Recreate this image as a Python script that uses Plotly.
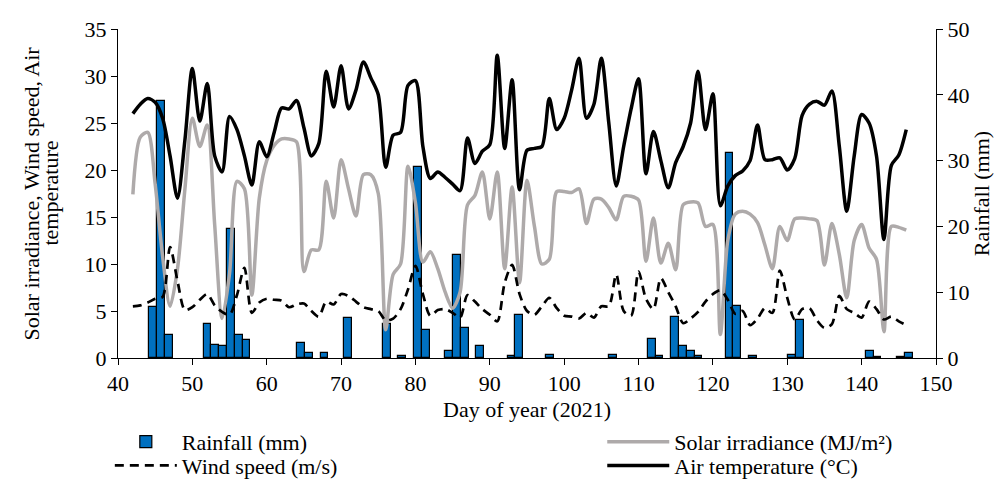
import plotly.graph_objects as go

days = list(range(42, 147))

air_temp = [26.0, 27.0, 27.6, 27.2, 25.5, 21.5, 17.0, 23.2, 30.8, 25.2,
            29.2, 21.5, 19.8, 25.7, 24.3, 21.5, 18.4, 23.0, 21.4, 24.0,
            26.6, 26.5, 27.4, 24.5, 21.5, 22.8, 30.5, 26.7, 31.1, 26.5,
            28.5, 31.5, 29.8, 28.0, 20.3, 23.7, 24.0, 29.0, 29.5, 22.5,
            19.1, 19.8, 19.2, 18.5, 17.8, 23.4, 20.7, 22.0, 22.7, 32.2,
            22.3, 29.6, 17.9, 22.1, 22.3, 22.5, 27.6, 24.3, 25.5, 28.5,
            31.9, 25.5, 27.0, 31.9, 25.0, 18.3, 22.5, 26.5, 29.7, 19.6,
            24.1, 21.0, 18.1, 20.8, 22.5, 25.0, 30.5, 24.3, 28.1, 16.2,
            18.3, 19.4, 19.9, 21.0, 24.8, 21.1, 21.1, 21.3, 20.0, 21.2,
            25.8, 27.0, 27.3, 26.9, 28.4, 22.5, 15.6, 21.5, 25.9, 25.0,
            21.5, 12.6, 20.5, 21.6, 24.3]

solar = [17.4, 23.5, 24.0, 18.5, 10.8, 5.5, 9.5, 18.0, 25.5, 22.5,
         24.8, 14.2, 4.2, 9.0, 18.8, 18.0, 6.7, 17.0, 21.0, 22.6,
         23.3, 23.3, 23.0, 9.2, 11.5, 11.5, 18.8, 14.9, 21.1, 18.0,
         15.1, 19.5, 19.5, 17.5, 3.0, 8.9, 10.0, 20.4, 16.5, 10.2,
         11.3, 9.5, 7.0, 5.3, 7.0, 16.3, 17.3, 19.8, 14.8, 19.8,
         9.5, 18.2, 8.0, 18.9, 14.0, 10.0, 10.5, 17.7, 17.7, 17.6,
         18.0, 14.3, 16.9, 16.9, 16.0, 14.7, 17.2, 17.2, 16.8, 10.3,
         14.9, 10.1, 12.2, 9.4, 16.3, 16.6, 16.5, 14.0, 14.2, 2.5,
         12.5, 15.3, 15.6, 15.3, 14.4, 12.0, 9.5, 14.0, 12.5, 14.8,
         14.9, 14.8, 14.6, 9.9, 14.3, 11.0, 6.4, 12.5, 14.2, 11.7,
         10.5, 2.8, 14.0, 13.9, 13.6]

wind = [5.5, 5.6, 5.9, 6.3, 6.5, 11.8, 8.2, 5.1, 5.4, 6.2,
        6.8, 5.6, 4.9, 4.6, 6.7, 9.6, 4.8, 5.9, 6.3, 6.2,
        6.1, 5.4, 5.7, 5.8, 5.0, 4.4, 6.0, 5.7, 6.8, 6.6,
        6.0, 5.4, 5.2, 5.0, 4.0, 4.2, 5.2, 7.3, 9.8, 6.8,
        4.5, 5.1, 5.2, 4.8, 4.3, 6.7, 6.0, 5.2, 4.6, 3.9,
        8.0, 9.9, 6.8, 5.0, 4.6, 5.5, 6.4, 5.3, 4.5, 4.4,
        4.2, 4.8, 4.3, 5.5, 5.5, 8.9, 5.0, 4.5, 9.2, 6.3,
        5.2, 8.5, 7.0, 5.5, 3.7, 4.2, 4.9, 6.0, 6.8, 7.2,
        6.2, 4.7, 5.0, 3.5, 4.2, 5.3, 4.8, 9.3, 6.4, 4.1,
        5.2, 5.3, 4.0, 3.2, 3.6, 6.6, 5.2, 4.8, 4.3, 6.0,
        5.2, 4.1, 4.4, 3.9, 3.5]

rain_days = list(range(42, 147))
rain_mm = [None, None, None, None, 7.7, 39.1, 3.5, None, None, None,
           None, 5.1, 2.0, 1.8, 19.6, 3.5, 2.8, None, None, None,
           None, None, None, 2.3, 0.8, None, 0.8, None, None, 6.1,
           None, None, None, None, 5.1, None, 0.25, None, 29.1, 4.3,
           None, None, 1.0, 15.7, 4.6, None, 1.8, None, None, None,
           0.25, 6.6, None, None, None, 0.5, None, None, None, None,
           None, None, None, 0.5, None, None, None, None, 2.9, 0.25,
           None, 6.3, 1.8, 1.0, 0.25, None, None, None, 31.1, 7.9,
           None, 0.25, None, None, None, None, 0.4, 5.8, None, None,
           None, None, None, None, None, None, 1.0, 0.2, None, None,
           0.2, 0.8, None, None, None]

x_ticks = list(range(40, 151, 10))
left_ticks = list(range(0, 36, 5))
right_ticks = list(range(0, 51, 10))

left_title_lines = ["Solar irradiance, Wind speed, Air", "temperature"]

FONT = "Liberation Serif, Times New Roman, serif"
FS = 22

fig = go.Figure()

fig.add_trace(go.Bar(
    x=rain_days, y=rain_mm, name="Rainfall (mm)",
    xaxis="x", yaxis="y", width=1.0, legend="legend",
    marker=dict(color="#0070C0", line=dict(color="black", width=1.2)),
))
fig.add_trace(go.Scatter(
    x=days, y=solar, name="Solar irradiance (MJ/m²)", mode="lines",
    xaxis="x2", yaxis="y2", legend="legend2",
    line=dict(color="#AEAAAA", width=3.5, shape="spline", smoothing=0.8),
))
fig.add_trace(go.Scatter(
    x=days, y=wind, name="Wind speed (m/s)", mode="lines",
    xaxis="x2", yaxis="y2", legend="legend3",
    line=dict(color="black", width=2.7, dash="9px,6px", shape="spline", smoothing=0.8),
))
fig.add_trace(go.Scatter(
    x=days, y=air_temp, name="Air temperature (°C)", mode="lines",
    xaxis="x2", yaxis="y2", legend="legend4",
    line=dict(color="black", width=3.5, shape="spline", smoothing=0.8),
))

tickfont = dict(family=FONT, size=FS, color="black")


def leg(xp, yp):
    return dict(x=xp, xanchor="left", y=yp, yanchor="middle",
                itemwidth=62, font=dict(family=FONT, size=FS, color="black"),
                bgcolor="rgba(0,0,0,0)", borderwidth=0)


annotations = [
    dict(text=left_title_lines[0], xref="paper", yref="paper",
         x=-0.1063, y=0.5, xanchor="center", yanchor="middle",
         textangle=-90, showarrow=False, font=tickfont),
    dict(text=left_title_lines[1], xref="paper", yref="paper",
         x=-0.0831, y=0.5, xanchor="center", yanchor="middle",
         textangle=-90, showarrow=False, font=tickfont),
]

fig.update_layout(
    width=1008, height=481,
    margin=dict(l=110, r=80, t=21, b=131, autoexpand=False),
    paper_bgcolor="white", plot_bgcolor="white",
    font=dict(family=FONT, size=FS, color="black"),
    bargap=0,
    showlegend=True,
    legend=leg(-0.01, -0.255),
    legend2=leg(0.592, -0.255),
    legend3=leg(-0.01, -0.327),
    legend4=leg(0.592, -0.327),
    annotations=annotations,
    xaxis=dict(
        range=[41.5, 146.5], visible=False, anchor="y",
    ),
    yaxis=dict(
        range=[0, 50], side="right", anchor="x",
        tickmode="array", tickvals=right_ticks,
        showline=True, linecolor="black", linewidth=1,
        ticks="outside", ticklen=6, tickcolor="black",
        showgrid=False, zeroline=False, tickfont=tickfont,
        title=dict(text="Rainfall (mm)", font=tickfont, standoff=4),
    ),
    xaxis2=dict(
        overlaying="x", side="bottom", anchor="y2",
        range=[40, 150], tickmode="array", tickvals=x_ticks,
        showline=True, linecolor="black", linewidth=1,
        ticks="outside", ticklen=6, tickcolor="black",
        showgrid=False, zeroline=False, tickfont=tickfont,
        title=dict(text="Day of year (2021)", font=tickfont, standoff=6),
    ),
    yaxis2=dict(
        overlaying="y", side="left", anchor="x2",
        range=[0, 35], tickmode="array", tickvals=left_ticks,
        showline=True, linecolor="black", linewidth=1,
        ticks="outside", ticklen=6, tickcolor="black",
        showgrid=False, zeroline=False, tickfont=tickfont,
    ),
)

fig.write_html("out.html")
